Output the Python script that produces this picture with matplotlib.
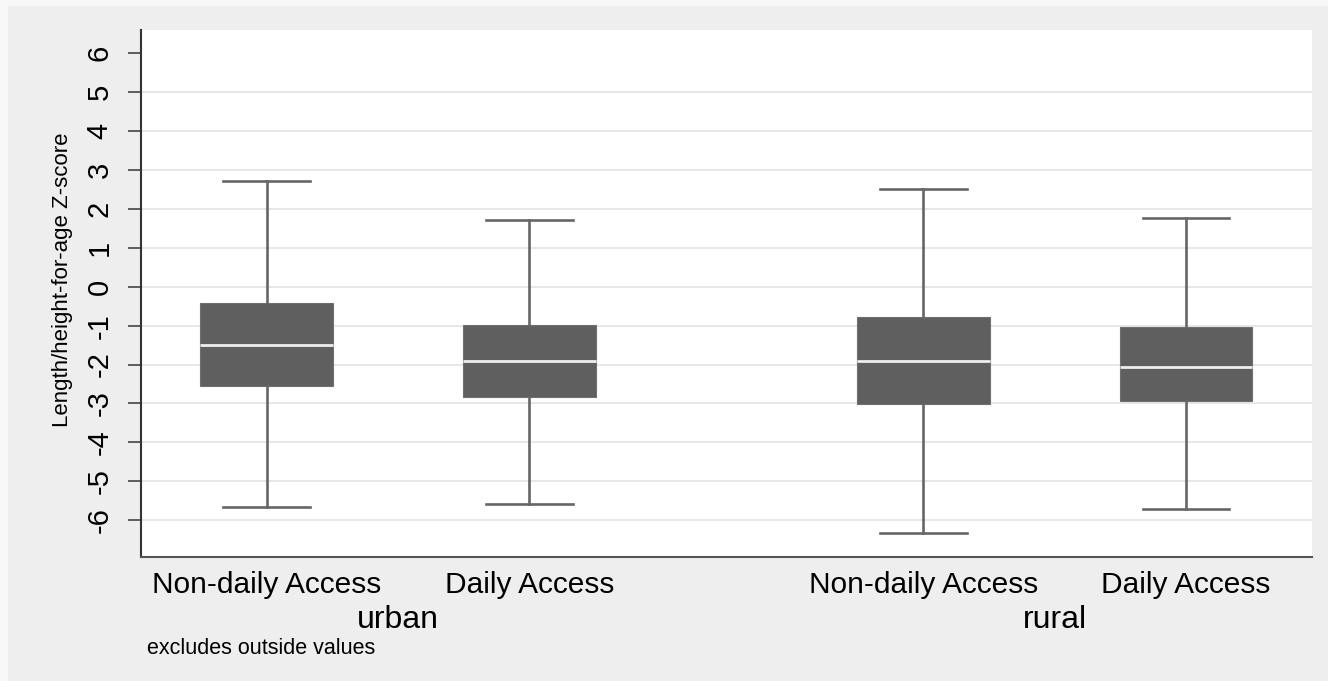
import matplotlib.pyplot as plt
from matplotlib.patches import Rectangle

plt.rcParams['font.family'] = ['Liberation Sans', 'DejaVu Sans']

# Box statistics (Z-scores), whiskers exclude outside values.
groups = ['urban', 'rural']
access = ['Non-daily Access', 'Daily Access', 'Non-daily Access', 'Daily Access']
whisker_low = [-5.66, -5.59, -6.33, -5.72]
q1 = [-2.55, -2.84, -3.02, -2.95]
median = [-1.50, -1.91, -1.92, -2.06]
q3 = [-0.43, -0.98, -0.79, -1.03]
whisker_high = [2.71, 1.71, 2.51, 1.76]
y_ticks = list(range(-6, 7))

# Layout: two boxes per group, a wider gap between the groups.
positions = [1, 2, 3.5, 4.5]
group_centers = [1.5, 4.0]

BOX_COLOR = '#5f5f5f'
LINE_COLOR = '#666666'
GRID_COLOR = '#e8e8e8'
BG_COLOR = '#eeeeee'

fig = plt.figure(figsize=(13.28, 6.81), dpi=100, facecolor='#f8f8f8')
# light gray panel behind everything, leaving a thin pale strip top and left
fig.patches.append(Rectangle((8 / 1328, 0), 1 - 8 / 1328, 1 - 6 / 681,
                             transform=fig.transFigure, facecolor=BG_COLOR,
                             edgecolor='none', zorder=-5))

ax = fig.add_axes([0.106, 0.1825, 0.8817, 0.7735])
ax.set_facecolor('white')

stats = []
for i in range(len(access)):
    stats.append({'whislo': whisker_low[i], 'q1': q1[i], 'med': median[i],
                  'q3': q3[i], 'whishi': whisker_high[i], 'fliers': []})

ax.bxp(stats, positions=positions, widths=0.505, patch_artist=True,
       showfliers=False, manage_ticks=False,
       boxprops=dict(facecolor=BOX_COLOR, edgecolor='#707070', linewidth=0.8),
       medianprops=dict(color='#eeeeee', linewidth=2.0, solid_capstyle='butt'),
       whiskerprops=dict(color=LINE_COLOR, linewidth=1.9),
       capprops=dict(color=LINE_COLOR, linewidth=1.9), capwidths=0.33)

ax.set_xlim(0.521, 4.978)
ax.set_ylim(-6.94, 6.6)

# horizontal grid (none at the top tick)
for y in y_ticks[:-1]:
    ax.axhline(y, color=GRID_COLOR, linewidth=1.4, zorder=0)

ax.set_yticks(y_ticks)
ax.set_yticklabels([str(v) for v in y_ticks])
ax.tick_params(axis='y', labelrotation=90, length=9.5, width=1.2, color='#444444',
               pad=10, labelsize=21)
for lab in ax.get_yticklabels():
    lab.set_verticalalignment('center')

ax.set_xticks(positions)
ax.set_xticklabels(access)
ax.tick_params(axis='x', length=0, pad=10, labelsize=21.5)

ax.set_ylabel('Length/height-for-age Z-score', fontsize=16)
ax.yaxis.set_label_coords(-0.0576, 0.526)

for side in ['top', 'right']:
    ax.spines[side].set_visible(False)
ax.spines['left'].set_color('#333333')
ax.spines['left'].set_linewidth(1.5)
ax.spines['bottom'].set_color('#555555')
ax.spines['bottom'].set_linewidth(1.5)

for name, xc in zip(groups, group_centers):
    ax.text(xc, -0.135, name, transform=ax.get_xaxis_transform(),
            ha='center', va='baseline', fontsize=23)

fig.text(147 / 1328, 1 - 654 / 681, 'excludes outside values',
         ha='left', va='baseline', fontsize=15.5)

fig.savefig('out.png', dpi=100, facecolor=fig.get_facecolor())
